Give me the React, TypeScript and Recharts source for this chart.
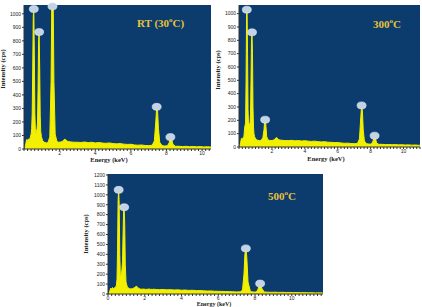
import React from 'react';
import { AreaChart, Area, XAxis, YAxis, CartesianGrid, ReferenceDot } from 'recharts';

// shared energy grid (keV)
const energy = [
  0.05, 0.1, 0.15, 0.2, 0.25, 0.3, 0.35, 0.4,
  0.43, 0.46, 0.49, 0.52, 0.55, 0.58, 0.61, 0.64, 0.67, 0.7, 0.73, 0.76, 0.79, 0.82, 0.85, 0.88, 0.91, 0.94, 0.98,
  1.05, 1.15, 1.25, 1.35, 1.45,
  1.52, 1.56, 1.6, 1.64, 1.68, 1.75,
  1.85, 1.95, 2.05, 2.15, 2.25, 2.32, 2.4, 2.5, 2.65, 2.8,
  3.0, 3.2, 3.4, 3.6, 3.8, 4.0, 4.2, 4.4, 4.6, 4.8, 5.0, 5.2, 5.4, 5.6, 5.8, 6.0, 6.2, 6.4, 6.6, 6.8, 7.0, 7.2,
  7.32, 7.4, 7.45, 7.5, 7.55, 7.62, 7.75, 7.9,
  8.05, 8.15, 8.22, 8.28, 8.36, 8.5,
  8.7, 8.9, 9.1, 9.3, 9.5, 9.7, 9.9, 10.1, 10.3, 10.5, 10.7, 10.9, 11.1, 11.3, 11.5, 11.7,
];

const countsRT = [
  5, 40, 70, 60, 75, 65, 85, 110,
  150, 260, 600, 980, 1035, 700, 260, 140, 120, 130, 150, 200, 450, 800, 865, 600, 250, 130, 90,
  60, 50, 45, 48, 90,
  500, 1100, 1200, 1100, 500, 110,
  55, 50, 52, 55, 70, 72, 60, 55, 52, 50,
  50, 48, 52, 47, 50, 45, 48, 44, 42, 45, 40, 38, 40, 36, 34, 35, 30, 28, 30, 26, 25, 28,
  60, 200, 310, 280, 150, 50, 25, 22,
  24, 45, 85, 80, 35, 20,
  20, 18, 20, 17, 19, 16, 18, 15, 17, 14, 15, 12, 14, 12, 13, 11,
];

const counts300 = [
  5, 35, 65, 55, 70, 80, 150, 180,
  500, 1000, 1030, 700, 280, 160, 170, 175, 180, 250, 500, 820, 860, 700, 300, 150, 100, 80, 70,
  55, 50, 48, 50, 70,
  130, 195, 205, 150, 80, 55,
  50, 48, 50, 55, 70, 68, 55, 52, 50, 48,
  48, 50, 46, 48, 45, 47, 44, 42, 44, 40, 38, 40, 36, 35, 33, 34, 30, 28, 29, 26, 25, 27,
  60, 220, 310, 270, 130, 45, 25, 22,
  22, 45, 82, 75, 30, 20,
  20, 18, 19, 17, 18, 16, 17, 15, 16, 14, 15, 13, 14, 12, 13, 11,
];

const counts500 = [
  10, 30, 60, 50, 65, 55, 60, 70,
  75, 90, 150, 450, 950, 1050, 900, 400, 200, 180, 190, 250, 330, 600, 850, 875, 700, 300, 120,
  70, 55, 50, 55, 65,
  75, 78, 70, 60, 55, 50,
  48, 50, 46, 48, 50, 47, 46, 48, 45, 44,
  45, 42, 44, 40, 42, 38, 40, 36, 38, 34, 35, 32, 30, 31, 28, 27, 26, 25, 24, 22, 21, 22,
  40, 200, 400, 460, 380, 120, 25, 20,
  20, 40, 80, 105, 60, 20,
  18, 17, 18, 16, 17, 15, 16, 14, 15, 13, 14, 12, 13, 11, 12, 10,
];

// peak label markers [energy, counts]
const peaksRT = [[0.55, 1035], [0.85, 865], [1.6, 1055], [7.45, 312], [8.22, 88]];
const peaks300 = [[0.475, 1030], [0.79, 860], [1.59, 205], [7.45, 312], [8.24, 85]];
const peaks500 = [[0.58, 1050], [0.88, 875], [7.5, 460], [8.28, 105]];

const xMajor = [2, 4, 6, 8, 10];
const xMajor3 = [0, 2, 4, 6, 8, 10];
const yTicks1000 = [0, 100, 200, 300, 400, 500, 600, 700, 800, 900, 1000];
const yTicks1200 = [0, 100, 200, 300, 400, 500, 600, 700, 800, 900, 1000, 1100, 1200];

const NAVY = '#0c3b6d';
const YELLOW = '#f2f000';
const GOLD = '#e8c23c';

const minorTicks = (max: number) => {
  const out: number[] = [];
  for (let k = 0; k * 0.2 <= max + 1e-9; k++) out.push(Math.round(k * 2) / 10);
  return out;
};

const PeakMarker = (props: any) => (
  <ellipse cx={props.cx} cy={props.cy} rx={4.5} ry={3.5} fill="#c3d3e6" stroke="#e6eef7" strokeWidth={0.6} />
);

const tickStyle = { fontSize: 5, fill: '#222', fontFamily: 'Liberation Sans, Arial, sans-serif' };

interface PanelProps {
  counts: number[];
  peaks: number[][];
  left: number;
  top: number;
  width: number;
  height: number;
  marginTop: number;
  yAxisWidth: number;
  xAxisHeight: number;
  xMax: number;
  yMax: number;
  yTicks: number[];
  xLabels: number[];
}

const Panel: React.FC<PanelProps> = (p) => {
  const rows = energy.map((e, i) => ({ e, c: p.counts[i] }));
  return (
    <AreaChart
      width={p.width}
      height={p.height}
      data={rows}
      margin={{ top: p.marginTop, right: 2, bottom: 0, left: 0 }}
      style={{ position: 'absolute', left: p.left, top: p.top }}
    >
      <CartesianGrid fill={NAVY} horizontal={false} vertical={false} />
      <XAxis
        dataKey="e"
        type="number"
        domain={[0, p.xMax]}
        allowDataOverflow
        ticks={minorTicks(p.xMax)}
        interval={0}
        tickFormatter={(v: number) => (p.xLabels.includes(v) ? String(v) : '')}
        tickSize={2}
        tickMargin={0}
        height={p.xAxisHeight}
        tick={tickStyle}
        stroke="#333"
      />
      <YAxis
        type="number"
        domain={[0, p.yMax]}
        allowDataOverflow
        ticks={p.yTicks}
        interval={0}
        tickSize={2}
        tickMargin={1}
        width={p.yAxisWidth}
        tick={tickStyle}
        stroke="#333"
      />
      <Area
        type="linear"
        dataKey="c"
        stroke={YELLOW}
        strokeWidth={1}
        fill={YELLOW}
        fillOpacity={1}
        isAnimationActive={false}
        dot={false}
        activeDot={false}
      />
      {p.peaks.map(([e, c]) => (
        <ReferenceDot key={e} x={e} y={c} r={4} shape={PeakMarker} ifOverflow="visible" />
      ))}
    </AreaChart>
  );
};

const titleStyle: React.CSSProperties = {
  position: 'absolute',
  fontFamily: 'Liberation Serif, Times New Roman, serif',
  fontWeight: 'bold',
  fontSize: 11,
  lineHeight: 1,
  color: GOLD,
  whiteSpace: 'nowrap',
};

const axisTitle: React.CSSProperties = {
  position: 'absolute',
  fontFamily: 'Liberation Serif, Times New Roman, serif',
  fontWeight: 'bold',
  fontSize: 6.5,
  lineHeight: 1,
  color: '#222',
  whiteSpace: 'nowrap',
  transform: 'translate(-50%, -50%)',
};

const yTitle: React.CSSProperties = { ...axisTitle, transform: 'translate(-50%, -50%) rotate(-90deg)' };

const Deg = () => <sup style={{ fontSize: 7, verticalAlign: 5 }}>o</sup>;

export default function App() {
  return (
    <div style={{ position: 'absolute', left: 0, top: 0, width: 422, height: 307, overflow: 'hidden', background: '#fff' }}>
      <Panel counts={countsRT} peaks={peaksRT} left={0} top={0} width={213} height={165} marginTop={5}
        yAxisWidth={24} xAxisHeight={16} xMax={10.5} yMax={1065} yTicks={yTicks1000} xLabels={xMajor} />
      <Panel counts={counts300} peaks={peaks300} left={211} top={0} width={211} height={165} marginTop={5}
        yAxisWidth={28} xAxisHeight={18} xMax={11} yMax={1065} yTicks={yTicks1000} xLabels={xMajor} />
      <Panel counts={counts500} peaks={peaks500} left={80} top={165} width={245} height={149} marginTop={9}
        yAxisWidth={28} xAxisHeight={20} xMax={11.7} yMax={1210} yTicks={yTicks1200} xLabels={xMajor3} />

      <div style={{ ...titleStyle, left: 137, top: 17 }}>RT (30<Deg />C)</div>
      <div style={{ ...titleStyle, left: 373, top: 18 }}>300<Deg />C</div>
      <div style={{ ...titleStyle, left: 268, top: 190 }}>500<Deg />C</div>

      <div style={{ ...yTitle, left: 3, top: 69 }}>Intensity (cps)</div>
      <div style={{ ...yTitle, left: 218, top: 70 }}>Intensity (cps)</div>
      <div style={{ ...yTitle, left: 86, top: 234 }}>Intensity (cps)</div>

      <div style={{ ...axisTitle, left: 109, top: 160 }}>Energy (keV)</div>
      <div style={{ ...axisTitle, left: 326, top: 159 }}>Energy (keV)</div>
      <div style={{ ...axisTitle, fontSize: 6, left: 214, top: 303.5 }}>Energy (keV)</div>
    </div>
  );
}
